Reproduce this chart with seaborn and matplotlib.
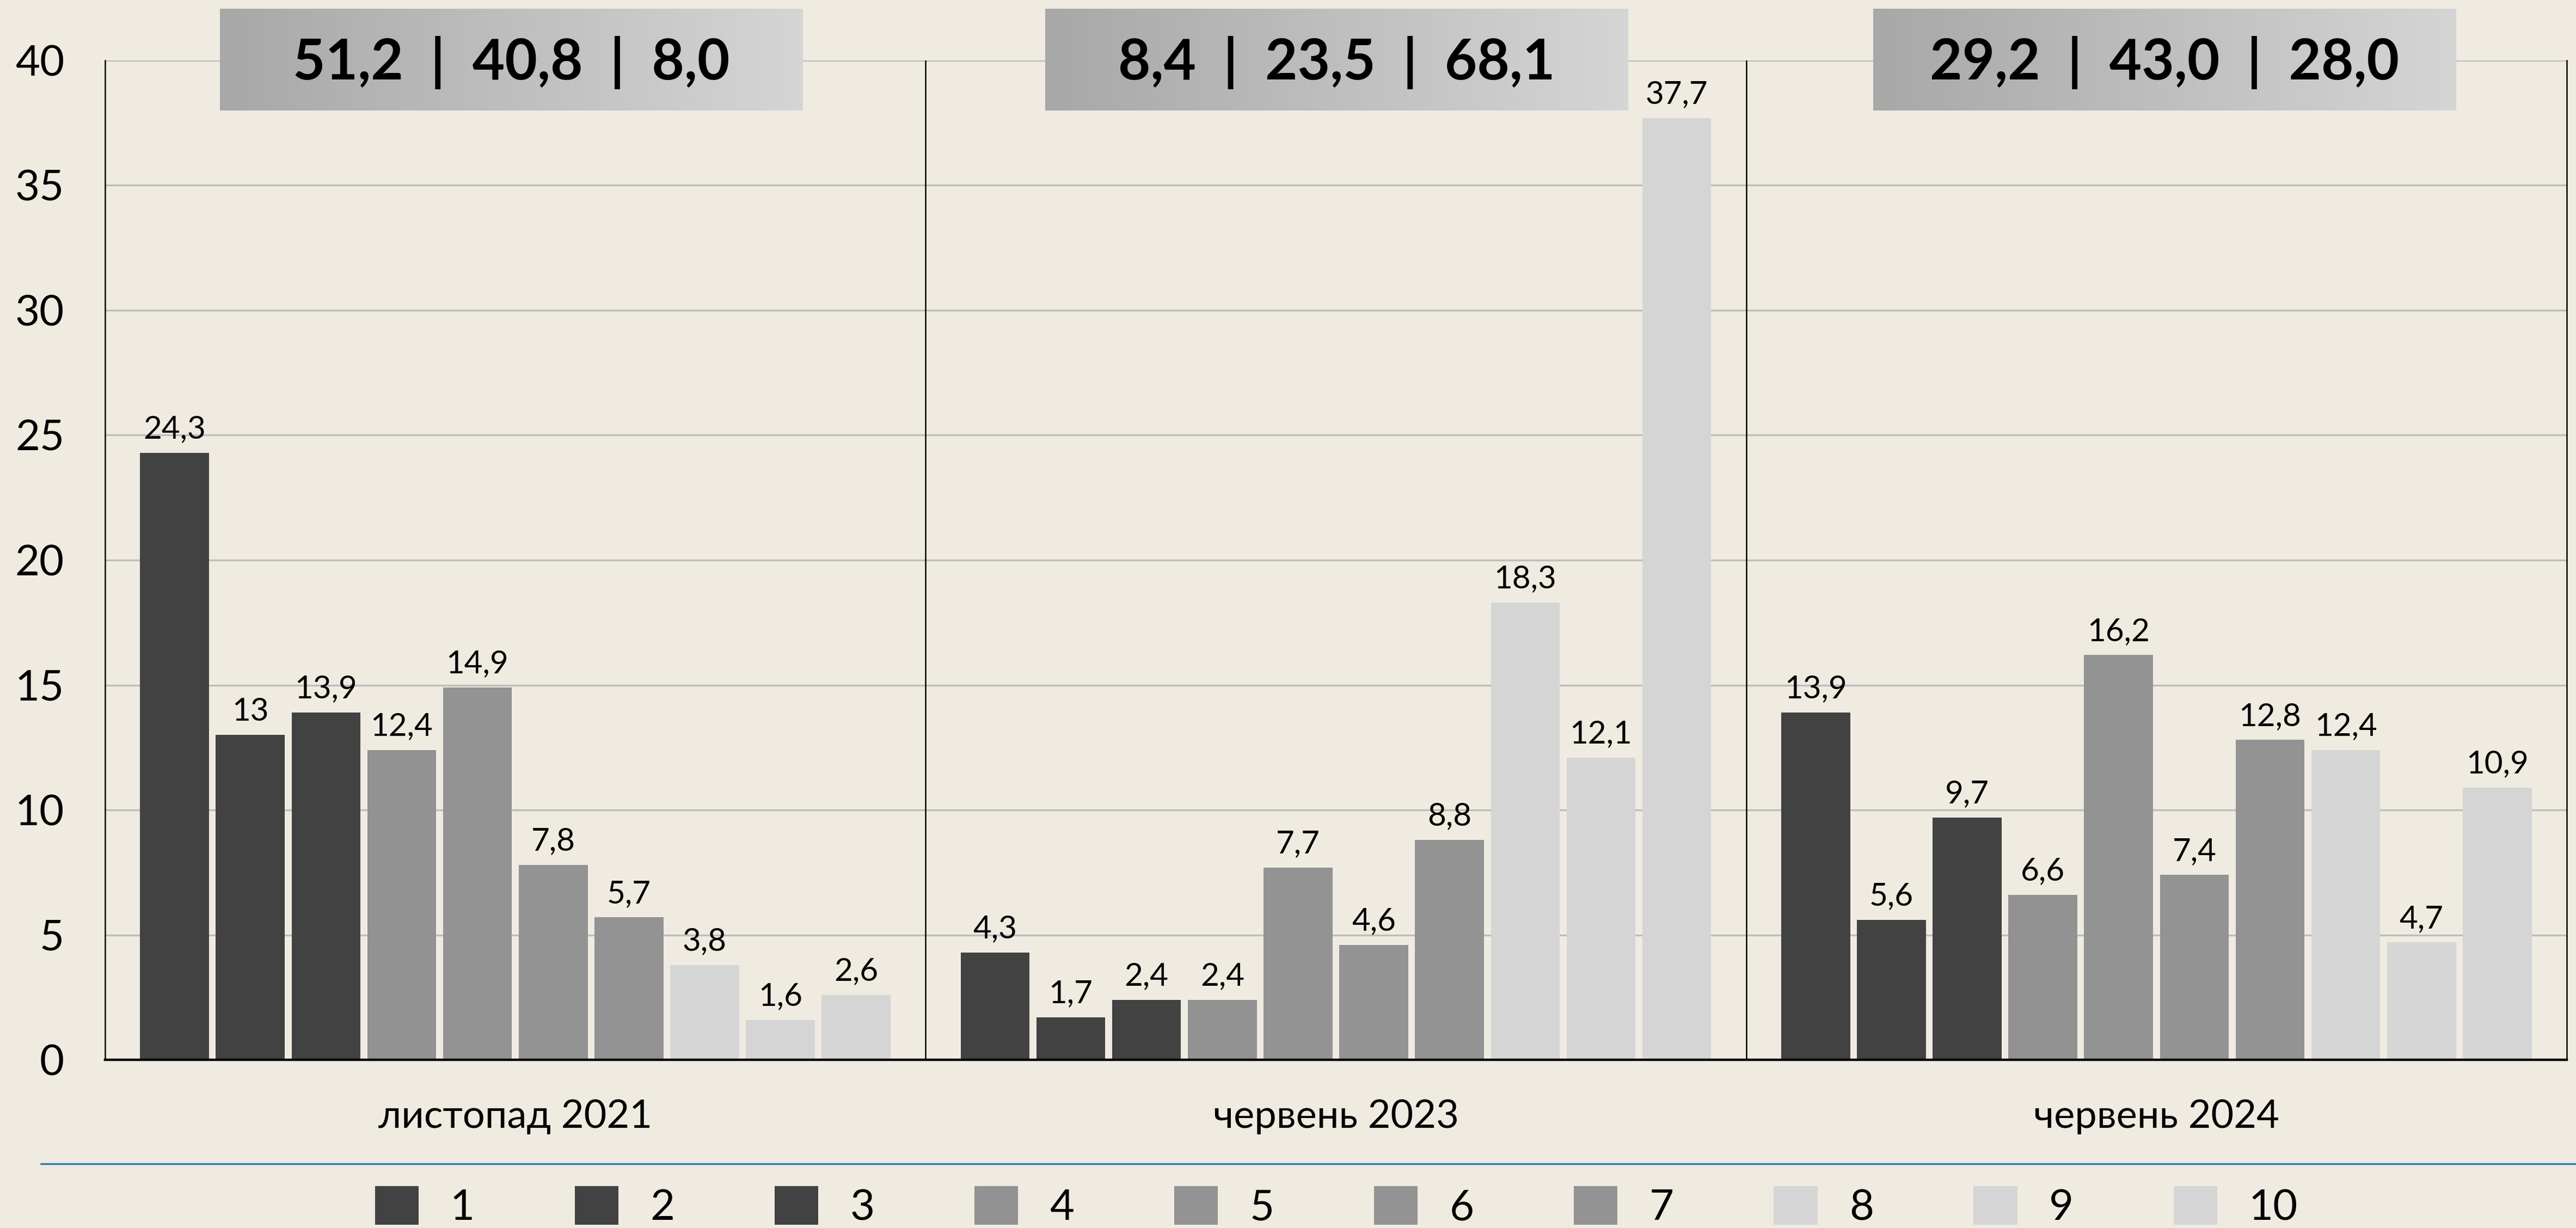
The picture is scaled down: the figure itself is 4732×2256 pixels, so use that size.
import numpy as np
import pandas as pd
import matplotlib
matplotlib.use("Agg")
import matplotlib.pyplot as plt
import seaborn as sns
from matplotlib.colors import LinearSegmentedColormap
from matplotlib.lines import Line2D

# ---------------- data ----------------
periods = ["листопад 2021", "червень 2023", "червень 2024"]
items = ["1", "2", "3", "4", "5", "6", "7", "8", "9", "10"]
values_2021 = [24.3, 13, 13.9, 12.4, 14.9, 7.8, 5.7, 3.8, 1.6, 2.6]
values_2023 = [4.3, 1.7, 2.4, 2.4, 7.7, 4.6, 8.8, 18.3, 12.1, 37.7]
values_2024 = [13.9, 5.6, 9.7, 6.6, 16.2, 7.4, 12.8, 12.4, 4.7, 10.9]
header_2021 = [51.2, 40.8, 8.0]
header_2023 = [8.4, 23.5, 68.1]
header_2024 = [29.2, 43.0, 28.0]
y_ticks = [0, 5, 10, 15, 20, 25, 30, 35, 40]

# ---------------- style ----------------
BG = "#efebe1"
DARK = "#424242"
MID = "#939393"
LIGHT = "#d5d5d5"
palette = {"1": DARK, "2": DARK, "3": DARK,
           "4": "#919291", "5": MID, "6": MID, "7": MID,
           "8": LIGHT, "9": LIGHT, "10": LIGHT}

sns.set_style("white")
plt.rcParams["font.family"] = ["Lato", "DejaVu Sans"]
plt.rcParams["text.color"] = "black"

rows = []
for p, vals in zip(periods, [values_2021, values_2023, values_2024]):
    for it, v in zip(items, vals):
        rows.append({"period": p, "item": it, "value": v})
df = pd.DataFrame(rows)

W, H, DPI = 4732, 2256, 200
fig = plt.figure(figsize=(W / DPI, H / DPI), dpi=DPI, facecolor=BG)
ax = fig.add_axes([193 / W, 1 - 1947 / H, (4715 - 193) / W, (1947 - 111) / H])
ax.set_facecolor(BG)

sns.barplot(data=df, x="period", y="value", hue="item", order=periods,
            hue_order=items, palette=palette, width=0.923, gap=0.09,
            saturation=1, errorbar=None, ax=ax, zorder=2, linewidth=0,
            edgecolor="none")

def fmt(v):
    return ("%g" % v).replace(".", ",")

for cont in ax.containers:
    ax.bar_label(cont, labels=[fmt(v) for v in cont.datavalues],
                 padding=6, fontsize=21, color="black")

ax.set_xlim(-0.5, 2.5)
ax.set_ylim(0, 40)
ax.set_yticks(y_ticks)
ax.set_yticklabels([str(t) for t in y_ticks])
ax.tick_params(axis="y", length=0, pad=27, labelsize=28, labelcolor="black")
ax.tick_params(axis="x", length=0, pad=26, labelsize=26, labelcolor="black")
ax.set_xlabel("")
ax.set_ylabel("")
ax.set_axisbelow(True)
ax.yaxis.grid(True, color="#bdbdbd", linewidth=1.2, zorder=0)
ax.xaxis.grid(False)

for s in ["left", "right"]:
    ax.spines[s].set_visible(True)
    ax.spines[s].set_color("black")
    ax.spines[s].set_linewidth(0.9)
ax.spines["bottom"].set_color("black")
ax.spines["bottom"].set_linewidth(1.6)
ax.spines["top"].set_visible(False)
for xsep in [0.5, 1.5]:
    ax.axvline(xsep, color="black", linewidth=0.9, zorder=3)

# header boxes with gradient
cmap = LinearSegmentedColormap.from_list("hdr", ["#a8a8a8", "#d5d5d5"])
grad = np.linspace(0, 1, 256).reshape(1, -1)
centers = [-0.005, 1.001, 2.01]
half_w = 0.355
for cx, hv in zip(centers, [header_2021, header_2023, header_2024]):
    ax.imshow(grad, cmap=cmap, aspect="auto",
              extent=(cx - half_w, cx + half_w, 38.0, 42.07),
              clip_on=False, zorder=5, interpolation="bilinear")
    txt = "  |  ".join(("%.1f" % v).replace(".", ",") for v in hv)
    ax.text(cx, 39.92, txt, ha="center", va="center", fontsize=37,
            fontweight="bold", color="black", zorder=6, clip_on=False)
ax.set_xlim(-0.5, 2.5)
ax.set_ylim(0, 40)

# legend
handles, labels = ax.get_legend_handles_labels()
if ax.get_legend() is not None:
    ax.get_legend().remove()
leg = fig.legend(handles, labels, loc="center", ncol=10, frameon=False,
                 bbox_to_anchor=(2455 / W, 1 - 2217 / H), fontsize=28,
                 handlelength=1.03, handleheight=1.03, handletextpad=0.75,
                 columnspacing=2.36, borderaxespad=0)

# teal separator line
fig.add_artist(Line2D([75 / W, 1.0], [1 - 2138 / H, 1 - 2138 / H],
                      transform=fig.transFigure, color="#2b7bb0", linewidth=1.2))

fig.savefig("out.png", dpi=DPI, facecolor=BG)
